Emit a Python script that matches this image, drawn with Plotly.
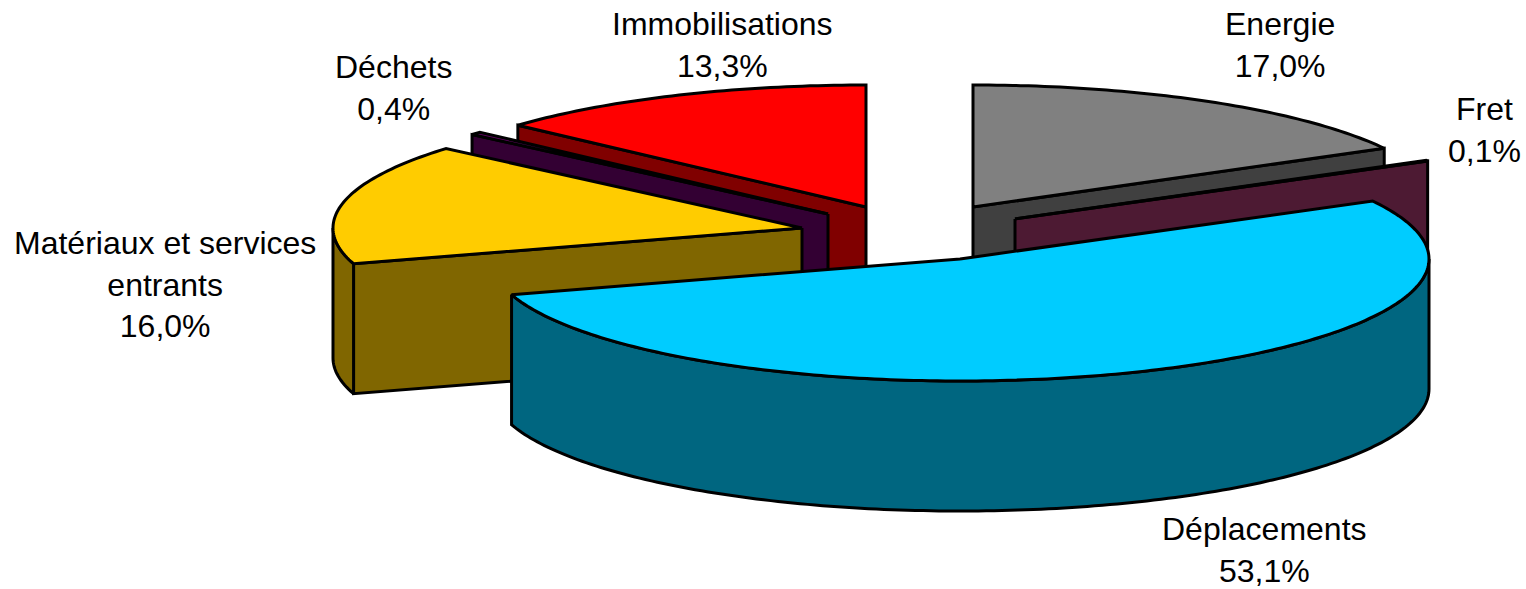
import numpy as np
import plotly.graph_objects as go

labels = ["Energie", "Fret", "Déplacements", "Matériaux et services<br>entrants", "Déchets", "Immobilisations"]
values = [17.0, 0.1, 53.1, 16.0, 0.4, 13.3]

top_colors = ["#808080", "#993366", "#00ccff", "#ffcc00", "#660066", "#ff0000"]
side_colors = ["#404040", "#4d1a33", "#006680", "#806600", "#330033", "#800000"]

# exploded centre of each slice, in page pixels
centers = [(973, 207), (1015, 219), (960, 259), (802, 228), (828, 214), (866, 207)]
label_pos = [(1280, 45), (1484, 130), (1264, 550), (165, 284), (393, 88), (722, 45)]

RX, RY = 469, 122
DEPTH = 130
# back to front
draw_order = [5, 4, 3, 0, 1, 2]


def rim(center, a, b):
    # points of the ellipse from angle a to b (radians, clockwise from top)
    t = np.linspace(a, b, max(2, int(abs(b - a) * 60)))
    return center[0] + RX * np.sin(t), center[1] - RY * np.cos(t)


def poly(fig, x, y, color):
    fig.add_trace(go.Scatter(
        x=list(x) + [x[0]], y=list(y) + [y[0]],
        mode="lines", fill="toself", fillcolor=color,
        line=dict(color="black", width=3, simplify=False),
        hoverinfo="skip", showlegend=False,
    ))


def cut_face(fig, center, angle, color):
    ex = center[0] + RX * np.sin(angle)
    ey = center[1] - RY * np.cos(angle)
    poly(fig, [center[0], ex, ex, center[0]],
         [center[1], ey, ey + DEPTH, center[1] + DEPTH], color)


fig = go.Figure()

# rounded shares add up to 99.9, the slices still close the circle
edges = np.concatenate([[0], np.cumsum(values)]) / sum(values) * 2 * np.pi

for n in draw_order:
    a, b = edges[n], edges[n + 1]
    c = centers[n]

    # only the radial faces turned towards the viewer
    if np.sin(a) < 0:
        cut_face(fig, c, a, side_colors[n])
    if np.sin(b) > 1e-9:
        cut_face(fig, c, b, side_colors[n])

    # outer wall, front half of the ellipse only
    wa, wb = max(a, np.pi / 2), min(b, 3 * np.pi / 2)
    if wb > wa:
        x, y = rim(c, wa, wb)
        poly(fig, np.concatenate([x, x[::-1]]), np.concatenate([y, y[::-1] + DEPTH]), side_colors[n])

    x, y = rim(c, a, b)
    poly(fig, np.concatenate([[c[0]], x]), np.concatenate([[c[1]], y]), top_colors[n])

for n, name in enumerate(labels):
    pct = f"{values[n]:.1f}".replace(".", ",") + "%"
    fig.add_annotation(
        x=label_pos[n][0], y=label_pos[n][1], text=f"{name}<br>{pct}",
        showarrow=False, xanchor="center", yanchor="middle", align="center",
        font=dict(family="Liberation Sans", size=32, color="black"),
    )

fig.update_layout(
    width=1526, height=589,
    margin=dict(l=0, r=0, t=0, b=0),
    paper_bgcolor="white", plot_bgcolor="white",
    showlegend=False,
    xaxis=dict(range=[0, 1526], visible=False),
    yaxis=dict(range=[589, 0], visible=False),
)
# page default margin would push the fixed-size plot 8px off
fig.write_html("out.html", config=dict(displayModeBar=False), post_script="document.body.style.margin='0';")
